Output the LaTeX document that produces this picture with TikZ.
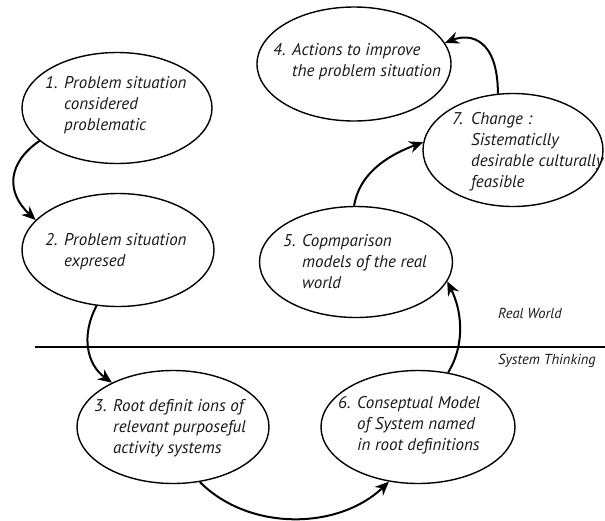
\documentclass[tikz,border=0pt]{standalone}
\usepackage{fontspec}
\setmainfont{PT Sans}
\usetikzlibrary{shapes.geometric,arrows.meta}
\newcommand{\steptext}[2]{\fontsize{17}{21}\selectfont\itshape\begin{tabular}{@{}l@{}l@{}}\makebox[19pt][l]{#1}&#2\end{tabular}}
\tikzset{
  stage/.style={draw=black, line width=1.4pt, ellipse, inner sep=0pt},
  stagetext/.style={anchor=west, inner sep=0pt, text=black!90},
  flow/.style={line width=2pt, -{Stealth[length=14pt,width=12pt]}},
  worldlabel/.style={anchor=west, inner sep=0pt, font=\fontsize{14.5}{16}\selectfont\itshape, text=black!90}
}
\begin{document}
\begin{tikzpicture}[x=1pt,y=-1pt]
\useasboundingbox (0,0) rectangle (605,520);
% ellipses
\node[stage, minimum width=190pt, minimum height=111pt] (e1) at (117,108) {};
\node[stage, minimum width=192pt, minimum height=113pt] (e2) at (118,250) {};
\node[stage, minimum width=192pt, minimum height=113pt] (e3) at (173,427) {};
\node[stage, minimum width=194pt, minimum height=114pt] (e4) at (354,64) {};
\node[stage, minimum width=193pt, minimum height=111pt] (e5) at (356,262) {};
\node[stage, minimum width=194pt, minimum height=113pt] (e6) at (418,427) {};
\node[stage, minimum width=180pt, minimum height=113pt] (e7) at (513,150) {};
% texts
\node[stagetext] (t1) at (45,105) {\steptext{1.}{Problem situation\\&considered\\&problematic}};
\node[stagetext] (t2) at (45,252) {\steptext{2.}{Problem situation\\&expresed}};
\node[stagetext] (t3) at (94,428) {\steptext{3.}{Root definit ions of\\&relevant purposeful\\&activity systems}};
\node[stagetext] (t4) at (273,62) {\steptext{4.}{Actions to improve\\&the problem situation}};
\node[stagetext] (t5) at (283,263) {\steptext{5.}{Copmparison\\&models of the real\\&world}};
\node[stagetext] (t6) at (338,425) {\steptext{6.}{Conseptual Model\\&of System named\\&in root definitions}};
\node[stagetext] (t7) at (452,152) {\steptext{7.}{Change :\\&Sistematiclly\\&desirable culturally\\&feasible}};
% divider
\coordinate (lineL) at (35,347);
\coordinate (lineR) at (605,347);
\draw[line width=1.5pt] (lineL) -- (lineR);
\node[worldlabel] (rw) at (498,313) {Real World};
\node[worldlabel] (st) at (498,361) {System Thinking};
% connectors
\draw[flow] (e1.203.7) .. controls +(-32,22) and +(-30,-28) .. (e2.160);
\draw[flow] (e2.249.4) .. controls +(-16,30) and +(-25,-18) .. (e3.144.2);
\draw[flow] (e3.296.6) .. controls +(50,50) and +(-50,48) .. (e6.242.6);
\draw[flow] (e6.61.5) .. controls +(18,-30) and +(14,28) .. (e5.-12);
\draw[flow] (e5.92) .. controls +(5,-30) and +(-40,15) .. (e7.175);
\draw[flow] (e7.105.9) .. controls +(0,-55) and +(25,-10) .. (e4.13.6);
\end{tikzpicture}
\end{document}
